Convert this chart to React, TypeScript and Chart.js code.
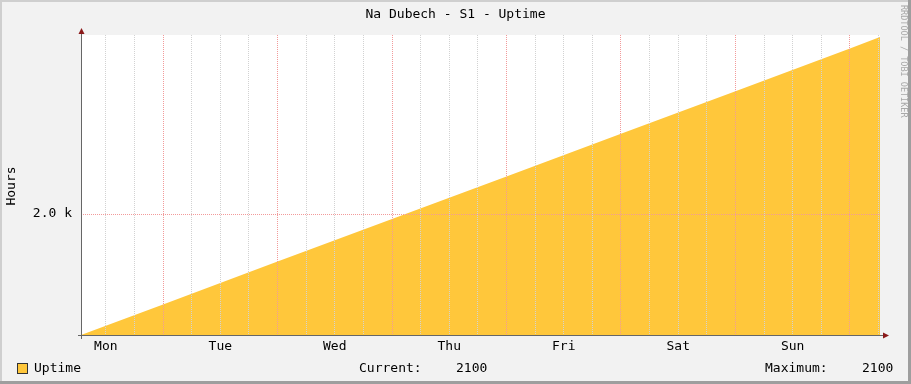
import React, { useEffect, useRef } from "react";
import { Chart, registerables } from "chart.js";

Chart.register(...registerables);

// ---- data ----
const TITLE = "Na Dubech - S1 - Uptime";
const Y_LABEL = "Hours";
const SIDE_TEXT = "RRDTOOL / TOBI OETIKER";
const SERIES_NAME = "Uptime";
const DAY_LABELS = ["Mon", "Tue", "Wed", "Thu", "Fri", "Sat", "Sun"];
// x: hours since Monday 00:00
const hoursFromMonday = [6.8, 24, 48, 72, 96, 120, 144, 168, 174.3];
const uptimeValues = [0, 506, 1214, 1917, 2620, 3329, 4032, 4735, 4926];
const X_MIN = 6.8;
const X_MAX = 174.3;
const Y_MIN = 0;
const Y_MAX = 4960;
const Y_TICKS = [2000];
const X_GRID_STEP_HOURS = 6;
const CURRENT_VALUE = "2100";
const MAXIMUM_VALUE = "2100";

const FONT = '"DejaVu Sans Mono", monospace';
const AREA_COLOR = "#FFC73B";
const MAJOR_GRID = "#f29a9a";
const MINOR_GRID = "#d2d2d2";
const AXIS_COLOR = "#666666";
const ARROW_COLOR = "#8b1a1a";

const rrdPlugin = {
  id: "rrdDecor",
  beforeDraw(chart: any) {
    const { ctx, width, height, chartArea: a } = chart;
    ctx.save();
    ctx.fillStyle = "#f2f2f2";
    ctx.fillRect(0, 0, width, height);
    ctx.fillStyle = "#cfcfcf";
    ctx.fillRect(0, 0, width, 2);
    ctx.fillRect(0, 0, 2, height);
    ctx.fillStyle = "#9e9e9e";
    ctx.fillRect(0, height - 3, width, 3);
    ctx.fillRect(width - 3, 0, 3, height);
    ctx.fillStyle = "#ffffff";
    ctx.fillRect(a.left, a.top, a.right - a.left, a.bottom - a.top);
    ctx.restore();
  },
  afterDraw(chart: any) {
    const { ctx, width, chartArea: a } = chart;
    ctx.save();
    // axes
    ctx.strokeStyle = AXIS_COLOR;
    ctx.lineWidth = 1;
    ctx.setLineDash([]);
    ctx.beginPath();
    ctx.moveTo(a.left + 0.5, a.bottom + 4);
    ctx.lineTo(a.left + 0.5, a.top - 2);
    ctx.moveTo(a.left - 3, a.bottom + 0.5);
    ctx.lineTo(a.right + 4, a.bottom + 0.5);
    ctx.stroke();
    // arrows
    ctx.fillStyle = ARROW_COLOR;
    ctx.beginPath();
    ctx.moveTo(a.left + 0.5, a.top - 7);
    ctx.lineTo(a.left + 3.5, a.top - 1);
    ctx.lineTo(a.left - 2.5, a.top - 1);
    ctx.closePath();
    ctx.fill();
    ctx.beginPath();
    ctx.moveTo(a.right + 9, a.bottom + 0.5);
    ctx.lineTo(a.right + 3, a.bottom + 3.5);
    ctx.lineTo(a.right + 3, a.bottom - 2.5);
    ctx.closePath();
    ctx.fill();

    // title
    ctx.fillStyle = "#000";
    ctx.font = `13px ${FONT}`;
    ctx.textAlign = "center";
    ctx.textBaseline = "middle";
    ctx.fillText(TITLE, width / 2, 15);

    // y label
    ctx.save();
    ctx.translate(12, 186);
    ctx.rotate(-Math.PI / 2);
    ctx.fillText(Y_LABEL, 0, 0);
    ctx.restore();

    // side text
    ctx.save();
    ctx.translate(903, 5);
    ctx.rotate(Math.PI / 2);
    ctx.fillStyle = "#a8a8a8";
    ctx.font = `8.5px ${FONT}`;
    ctx.textAlign = "left";
    ctx.fillText(SIDE_TEXT, 0, 0);
    ctx.restore();

    // legend
    ctx.fillStyle = AREA_COLOR;
    ctx.fillRect(17, 363, 11, 11);
    ctx.strokeStyle = "#333";
    ctx.strokeRect(17.5, 363.5, 10, 10);
    ctx.fillStyle = "#000";
    ctx.textAlign = "left";
    ctx.font = `13px ${FONT}`;
    ctx.fillText(SERIES_NAME, 34, 369);
    ctx.fillText("Current:", 359, 369);
    ctx.fillText(CURRENT_VALUE, 456, 369);
    ctx.fillText("Maximum:", 765, 369);
    ctx.fillText(MAXIMUM_VALUE, 862, 369);
    ctx.restore();
  },
};

export default function App() {
  const ref = useRef<HTMLCanvasElement | null>(null);

  useEffect(() => {
    document.body.style.margin = "0";
    const canvas = ref.current;
    if (!canvas) return;
    const chart = new Chart(canvas, {
      type: "line",
      data: {
        datasets: [
          {
            label: SERIES_NAME,
            data: hoursFromMonday.map((h, i) => ({ x: h, y: uptimeValues[i] })),
            fill: "origin",
            backgroundColor: AREA_COLOR,
            borderColor: "rgba(0,0,0,0)",
            borderWidth: 0,
            pointRadius: 0,
            tension: 0,
          },
        ],
      },
      options: {
        responsive: false,
        animation: false,
        events: [],
        layout: { padding: { left: 0, top: 35, right: 31, bottom: 0 } },
        plugins: {
          legend: { display: false },
          title: { display: false },
          tooltip: { enabled: false },
        },
        scales: {
          x: {
            type: "linear",
            min: X_MIN,
            max: X_MAX,
            afterFit: (s: any) => {
              s.height = 49;
            },
            afterBuildTicks: (s: any) => {
              const t: any[] = [];
              for (let h = Math.ceil(X_MIN / X_GRID_STEP_HOURS) * X_GRID_STEP_HOURS; h <= X_MAX; h += X_GRID_STEP_HOURS) {
                t.push({ value: h });
              }
              s.ticks = t;
            },
            ticks: {
              z: 1,
              autoSkip: false,
              maxRotation: 0,
              minRotation: 0,
              padding: 4,
              color: "#000",
              font: { family: FONT, size: 13 },
              callback: (v: any) => {
                const n = Number(v);
                return n % 24 === 12 ? DAY_LABELS[(n - 12) / 24] : "";
              },
            },
            grid: {
              z: 1,
              drawTicks: false,
              lineWidth: 1,
              color: (c: any) => (c.tick && c.tick.value % 24 === 0 ? MAJOR_GRID : MINOR_GRID),
            },
            border: { display: false, dash: [1, 1] },
          },
          y: {
            type: "linear",
            min: Y_MIN,
            max: Y_MAX,
            afterFit: (s: any) => {
              s.width = 81;
            },
            afterBuildTicks: (s: any) => {
              s.ticks = Y_TICKS.map((v) => ({ value: v }));
            },
            ticks: {
              z: 1,
              padding: 9,
              color: "#000",
              font: { family: FONT, size: 13 },
              callback: (v: any) => (Number(v) / 1000).toFixed(1) + " k",
            },
            grid: {
              z: 1,
              drawTicks: false,
              lineWidth: 1,
              color: MAJOR_GRID,
            },
            border: { display: false, dash: [1, 1] },
          },
        },
      },
      plugins: [rrdPlugin],
    } as any);
    return () => chart.destroy();
  }, []);

  return (
    <canvas
      ref={ref}
      width={911}
      height={384}
      style={{ display: "block", width: 911, height: 384 }}
    />
  );
}
